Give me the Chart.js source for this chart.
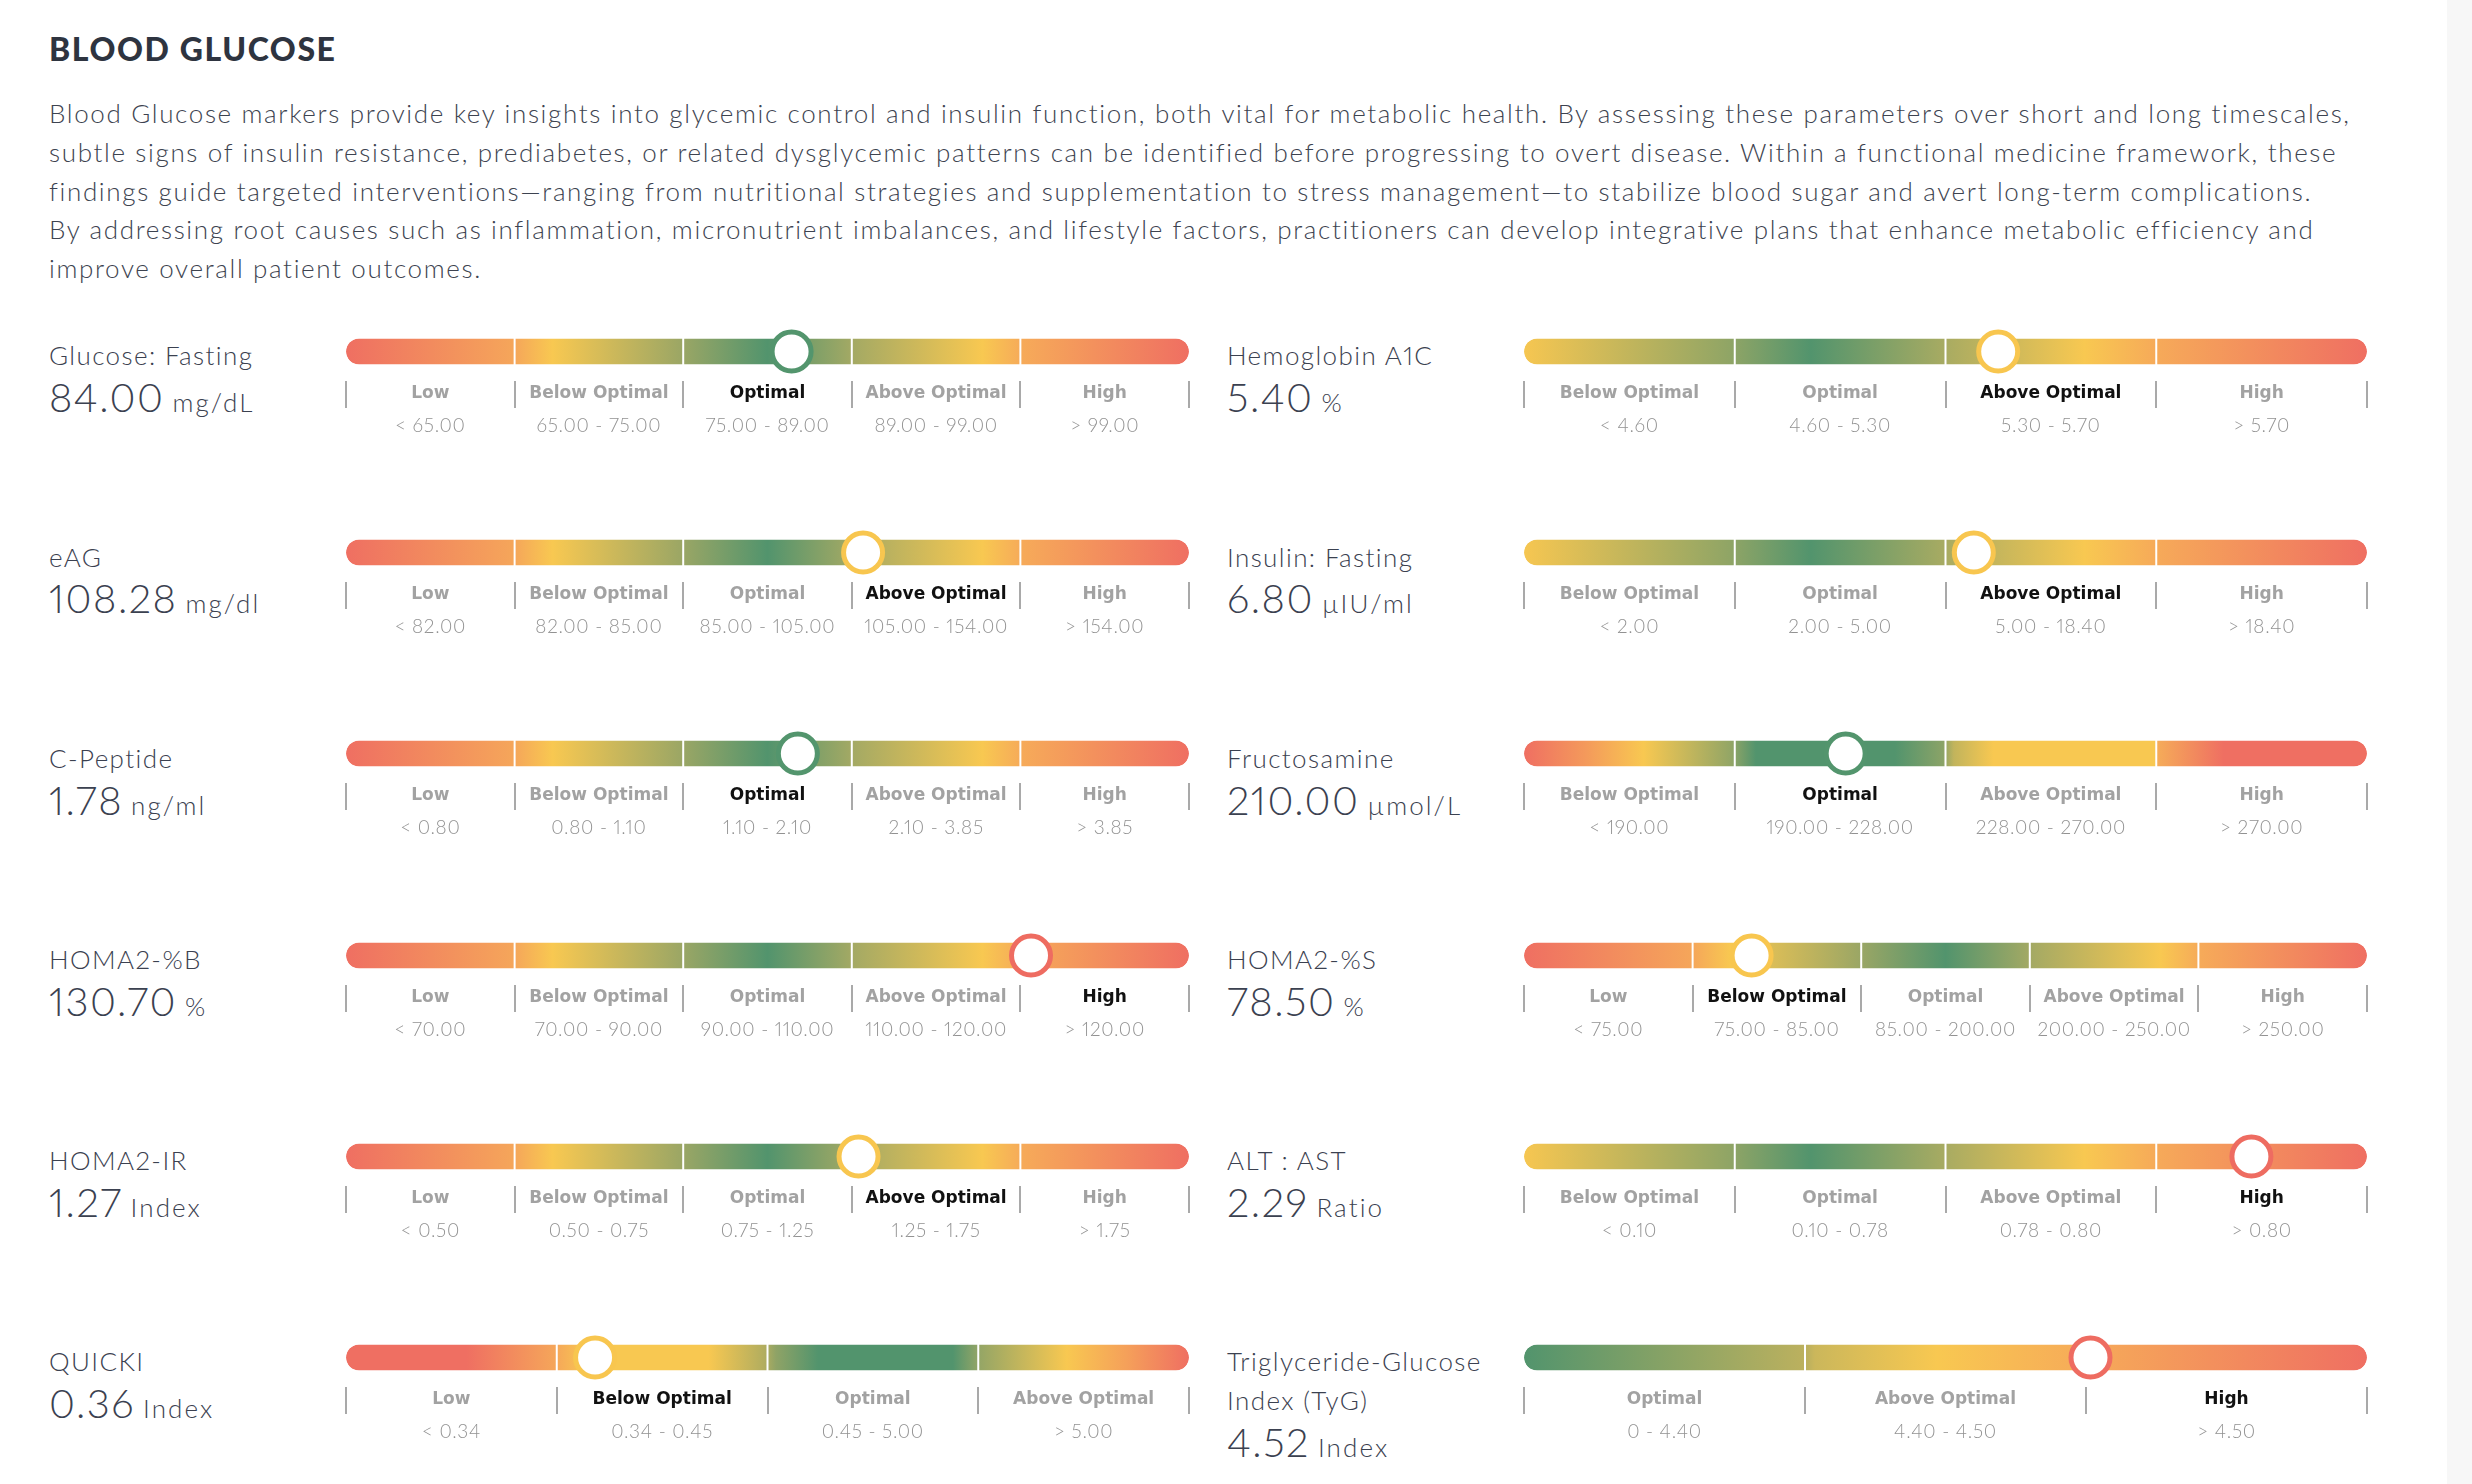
<!DOCTYPE html>
<html><head><meta charset="utf-8">
<script src="https://cdn.jsdelivr.net/npm/chart.js@4.4.1/dist/chart.umd.min.js"></script>
<style>
html,body{margin:0;padding:0;background:#fff;}
#page{position:relative;width:2472px;height:1484px;overflow:hidden;background:#fff;font-family:Lato,"Open Sans",sans-serif;font-variant-numeric:proportional-nums;}
#strip{position:absolute;left:2447px;top:0;width:25px;height:1484px;background:#f7f7f7;}
.t{position:absolute;white-space:nowrap;line-height:1;}
#title{font-weight:900;font-size:32px;color:#2e3440;letter-spacing:1.6px;}
.para{font-weight:300;font-size:26px;color:#3d4350;letter-spacing:1.65px;}
.lbl{font-weight:300;font-size:26px;color:#3b4150;letter-spacing:1.4px;white-space:normal;width:300px;line-height:39px;}
.val{font-weight:300;font-size:40px;color:#3b4150;letter-spacing:1.5px;}
.unit{font-size:26px;letter-spacing:2.1px;margin-left:8px;}
canvas{position:absolute;}
</style></head>
<body><div id="page"><div id="strip"></div></div>
<script>
// ---------------- data ----------------
const titleText = 'BLOOD GLUCOSE';
const paragraphLines = [
  'Blood Glucose markers provide key insights into glycemic control and insulin function, both vital for metabolic health. By assessing these parameters over short and long timescales,',
  'subtle signs of insulin resistance, prediabetes, or related dysglycemic patterns can be identified before progressing to overt disease. Within a functional medicine framework, these',
  'findings guide targeted interventions\u2014ranging from nutritional strategies and supplementation to stress management\u2014to stabilize blood sugar and avert long-term complications.',
  'By addressing root causes such as inflammation, micronutrient imbalances, and lifestyle factors, practitioners can develop integrative plans that enhance metabolic efficiency and',
  'improve overall patient outcomes.'
];
const markerNames = ['Glucose: Fasting','Hemoglobin A1C','eAG','Insulin: Fasting','C-Peptide','Fructosamine','HOMA2-%B','HOMA2-%S','HOMA2-IR','ALT : AST','QUICKI','Triglyceride-Glucose Index (TyG)'];
const markerValues = [84.00, 5.40, 108.28, 6.80, 1.78, 210.00, 130.70, 78.50, 1.27, 2.29, 0.36, 4.52];
const markerUnits = ['mg/dL','%','mg/dl','\u00b5IU/ml','ng/ml','\u00b5mol/L','%','%','Index','Ratio','Index','Index'];
const cats5 = ['Low','Below Optimal','Optimal','Above Optimal','High'];
const cats4 = ['Below Optimal','Optimal','Above Optimal','High'];
const catsQuicki = ['Low','Below Optimal','Optimal','Above Optimal'];
const catsTyg = ['Optimal','Above Optimal','High'];
const categorySets = [cats5, cats4, cats5, cats4, cats5, cats4, cats5, cats5, cats5, cats4, catsQuicki, catsTyg];
const rangeLabels = [
  ['< 65.00','65.00 - 75.00','75.00 - 89.00','89.00 - 99.00','> 99.00'],
  ['< 4.60','4.60 - 5.30','5.30 - 5.70','> 5.70'],
  ['< 82.00','82.00 - 85.00','85.00 - 105.00','105.00 - 154.00','> 154.00'],
  ['< 2.00','2.00 - 5.00','5.00 - 18.40','> 18.40'],
  ['< 0.80','0.80 - 1.10','1.10 - 2.10','2.10 - 3.85','> 3.85'],
  ['< 190.00','190.00 - 228.00','228.00 - 270.00','> 270.00'],
  ['< 70.00','70.00 - 90.00','90.00 - 110.00','110.00 - 120.00','> 120.00'],
  ['< 75.00','75.00 - 85.00','85.00 - 200.00','200.00 - 250.00','> 250.00'],
  ['< 0.50','0.50 - 0.75','0.75 - 1.25','1.25 - 1.75','> 1.75'],
  ['< 0.10','0.10 - 0.78','0.78 - 0.80','> 0.80'],
  ['< 0.34','0.34 - 0.45','0.45 - 5.00','> 5.00'],
  ['0 - 4.40','4.40 - 4.50','> 4.50']
];
// segment boundaries (open ends)
const rangeBounds = [
  [55, 65, 75, 89, 99, 109],
  [3.9, 4.6, 5.3, 5.7, 6.1],
  [79, 82, 85, 105, 154, 203],
  [0, 2.0, 5.0, 18.4, 31.8],
  [0.5, 0.8, 1.1, 2.1, 3.85, 5.6],
  [152, 190, 228, 270, 312],
  [50, 70, 90, 110, 120, 290],
  [65, 75, 85, 200, 250, 300],
  [0.25, 0.5, 0.75, 1.25, 1.75, 2.25],
  [0, 0.1, 0.78, 0.8, 4.1],
  [0.23, 0.34, 0.45, 5.0, 9.55],
  [0, 4.4, 4.5, 5.75]
];

// ---------------- styles ----------------
const RED = '#ef6f62', YEL = '#f8c851', GRN = '#52946d';
const gradA = [[0,RED],[0.2,'#f5a65a'],[0.245,YEL],[0.4,'#9aa665'],[0.5,GRN],[0.6,'#a3a964'],[0.755,YEL],[0.8,'#f6ab59'],[1,RED]];
const gradB = [[0,'#f6c651'],[0.25,'#8da466'],[0.34,GRN],[0.5,'#a8ab62'],[0.665,YEL],[0.75,'#f6aa59'],[1,RED]];
const gradFru = [[0,RED],[0.074,'#f49a5b'],[0.142,YEL],[0.247,'#91a566'],[0.275,GRN],[0.44,GRN],[0.497,'#8aa367'],[0.51,'#c2b45c'],[0.557,YEL],[0.748,YEL],[0.752,'#f5ab59'],[0.83,RED],[1,RED]];
const gradQ = [[0,RED],[0.143,RED],[0.247,'#f5a55a'],[0.286,YEL],[0.43,YEL],[0.497,'#b1ad5f'],[0.51,'#8fa366'],[0.56,GRN],[0.72,GRN],[0.75,'#93a566'],[0.855,YEL],[0.926,'#f5a05a'],[1,RED]];
const gradT = [[0,GRN],[0.337,'#bdb15e'],[0.345,'#cbb75b'],[0.49,YEL],[0.67,'#f6aa59'],[1,RED]];
const gradientFor = [gradA, gradB, gradA, gradB, gradA, gradFru, gradA, gradA, gradA, gradB, gradQ, gradT];
const markerColour = {'Low':'#ee6c61','High':'#ee6c61','Below Optimal':'#f8c64f','Above Optimal':'#f8c64f','Optimal':'#53956d'};

const page = document.getElementById('page');
function baseOff(size, lh){ return (lh - 1.2*size)/2 + 0.987*size; }
function addText(cls, html, x, baseline, size, lh){
  const d = document.createElement('div');
  d.className = 't ' + cls;
  d.innerHTML = html;
  d.style.left = x + 'px';
  d.style.top = (baseline - baseOff(size, lh || size)) + 'px';
  page.appendChild(d);
  return d;
}
addText('', titleText, 49, 61.7, 32).id = 'title';
paragraphLines.forEach((l, i) => addText('para', l, 49, 123 + 38.8*i, 26));

const ROW = 201.2, PADX = 30, PADT = 26, PADB = 4, BARW = 843;

// letter spacing for canvas tick labels of one axis
function spacedLabels(spacing){
  return (s) => {
    if (s.$spaced) return;
    const orig = s.drawLabels.bind(s);
    s.drawLabels = (area) => {
      const c = s.ctx, prev = c.letterSpacing;
      c.letterSpacing = spacing;
      orig(area);
      c.letterSpacing = prev || '0px';
    };
    s.$spaced = true;
  };
}

function buildGauge(i){
  const cats = categorySets[i], ranges = rangeLabels[i], bounds = rangeBounds[i], v = markerValues[i];
  const n = cats.length;
  let k = 0;
  for (let j = 0; j < n; j++) if (v >= bounds[j]) k = j;
  const pos = k + (v - bounds[k]) / (bounds[k+1] - bounds[k]);
  const col = i % 2, row = Math.floor(i / 2);
  const textX = col ? 1227 : 49;
  const barLeft = col ? 1524 : 346;
  const barCenter = 351.5 + ROW * row;

  // labels
  const lab = addText('lbl', markerNames[i], textX, 366 + ROW*row, 26, 39);
  const lines = Math.round(lab.offsetHeight / 39);
  addText('val', v.toFixed(2) + '<span class="unit">' + markerUnits[i] + '</span>', textX, 412.7 + ROW*row + 39*(lines-1), 40);

  const cv = document.createElement('canvas');
  cv.width = BARW + 2*PADX;
  cv.height = PADT + 59 + 27 + 40 + PADB;
  cv.style.left = (barLeft - PADX) + 'px';
  cv.style.top = (Math.round(barCenter - 29.5) - PADT) + 'px';
  page.appendChild(cv);

  const stops = gradientFor[i];
  const grad = (ctx) => {
    const ch = ctx.chart, a = ch.chartArea;
    if (!a) return stops[0][1];
    if (!ch.$g) {
      const g = ch.ctx.createLinearGradient(a.left, 0, a.right, 0);
      stops.forEach(s => g.addColorStop(s[0], s[1]));
      ch.$g = g;
    }
    return ch.$g;
  };
  const datasets = cats.map((c, j) => ({
    type: 'bar',
    label: c,
    data: [[j, j + 1]],
    xAxisID: 'x', yAxisID: 'y',
    grouped: false,
    barThickness: 26,
    backgroundColor: grad,
    borderColor: '#ffffff',
    borderWidth: {left: j > 0 ? 1 : 0, right: j < n - 1 ? 1 : 0, top: 0, bottom: 0},
    borderSkipped: false,
    borderRadius: {topLeft: j === 0 ? 13 : 0, bottomLeft: j === 0 ? 13 : 0, topRight: j === n-1 ? 13 : 0, bottomRight: j === n-1 ? 13 : 0},
    inflateAmount: 0,
    order: 2
  }));
  datasets.push({
    type: 'scatter',
    label: 'value',
    data: [{x: pos, y: 'v'}],
    xAxisID: 'x', yAxisID: 'y',
    pointRadius: 19.5,
    pointBorderWidth: 5,
    pointBackgroundColor: '#ffffff',
    pointBorderColor: markerColour[cats[k]],
    clip: false,
    order: 0
  });

  new Chart(cv, {
    type: 'bar',
    data: {labels: ['v'], datasets},
    options: {
      indexAxis: 'y',
      responsive: false,
      animation: false,
      events: [],
      layout: {padding: {left: PADX, right: PADX, top: PADT, bottom: PADB}},
      plugins: {legend: {display: false}, tooltip: {enabled: false}},
      scales: {
        x: {type: 'linear', min: 0, max: n, display: false},
        y: {type: 'category', display: false},
        xcat: {
          type: 'category', labels: cats, position: 'bottom', offset: true,
          grid: {display: true, drawOnChartArea: false, drawTicks: true, tickLength: 27, offset: true, color: '#a9a9a9', lineWidth: 2},
          border: {display: false},
          ticks: {
            autoSkip: false, maxRotation: 0, minRotation: 0, padding: -24.5,
            font: {family: '"DejaVu Sans"', weight: 'bold', size: 17, lineHeight: 1.2},
            color: (c) => c.index === k ? '#111111' : '#a2a2a2'
          },
          afterFit: (s) => { s.height = 27; }
        },
        xrng: {
          type: 'category', labels: ranges, position: 'bottom', offset: true,
          grid: {display: false, drawTicks: false},
          border: {display: false},
          ticks: {
            autoSkip: false, maxRotation: 0, minRotation: 0, padding: 6.6,
            font: {family: 'Lato', weight: '300', size: 19, lineHeight: 1.2},
            color: '#929292'
          },
          afterFit: (s) => { s.height = 40; },
          afterUpdate: spacedLabels('0.7px')
        }
      }
    }
  });
}
for (let i = 0; i < markerNames.length; i++) buildGauge(i);
</script>
</body></html>
